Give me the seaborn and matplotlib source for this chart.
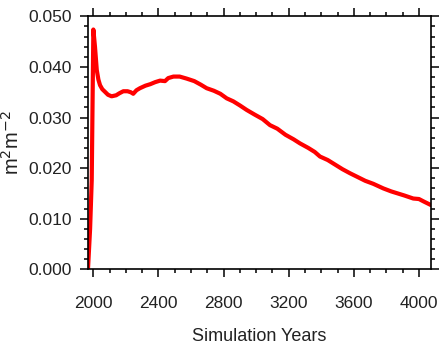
import matplotlib
matplotlib.use("Agg")
import matplotlib.pyplot as plt
from matplotlib.ticker import MultipleLocator, FormatStrFormatter
import seaborn as sns
import pandas as pd

# Simulated annual series (m2 m-2)
years = [1967, 1980, 1990, 2000, 2010, 2021, 2031, 2041, 2055, 2071, 2090, 2112,
         2140, 2160, 2184, 2210, 2230, 2245, 2265, 2286, 2320, 2350, 2380, 2410,
         2440, 2460, 2492, 2530, 2573, 2620, 2660, 2696, 2740, 2780, 2819, 2860,
         2900, 2942, 2990, 3040, 3085, 3130, 3180, 3230, 3269, 3320, 3360, 3392,
         3440, 3480, 3530, 3576, 3620, 3670, 3720, 3781, 3830, 3870, 3910, 3965,
         4000, 4030, 4074]
values = [0.0, 0.008, 0.0176, 0.0474, 0.0440, 0.0394, 0.0375, 0.0364, 0.0356,
          0.0351, 0.0345, 0.0342, 0.0344, 0.0348, 0.0352, 0.0352, 0.0350, 0.0347,
          0.0354, 0.0358, 0.0363, 0.0366, 0.0370, 0.0373, 0.0372, 0.0378, 0.0381,
          0.0381, 0.0377, 0.0372, 0.0365, 0.0358, 0.0353, 0.0347, 0.0338, 0.0332,
          0.0324, 0.0315, 0.0306, 0.0297, 0.0285, 0.0278, 0.0266, 0.0257, 0.0249,
          0.0240, 0.0232, 0.0223, 0.0216, 0.0208, 0.0198, 0.0190, 0.0183, 0.0175,
          0.0169, 0.0160, 0.0154, 0.0150, 0.0146, 0.0140, 0.0139, 0.0134, 0.0127]

df = pd.DataFrame({"year": years, "value": values})

sns.set_style("ticks")
plt.rcParams["font.family"] = ["Liberation Sans", "DejaVu Sans"]

fig = plt.figure(figsize=(4.41, 3.48), dpi=100)
ax = fig.add_axes([0.1995, 0.226, 0.7778, 0.727])

sns.lineplot(data=df, x="year", y="value", ax=ax, color="#ff0000",
             linewidth=3.0, solid_joinstyle="round", solid_capstyle="round")

ax.set_xlim(1967, 4074)
ax.set_ylim(0.0, 0.050)
ax.xaxis.set_major_locator(MultipleLocator(400))
ax.xaxis.set_minor_locator(MultipleLocator(100))
ax.yaxis.set_major_locator(MultipleLocator(0.01))
ax.yaxis.set_minor_locator(MultipleLocator(0.002))
ax.yaxis.set_major_formatter(FormatStrFormatter("%.3f"))

for s in ax.spines.values():
    s.set_visible(True)
    s.set_linewidth(1.2)
    s.set_color("black")

ax.tick_params(which="both", direction="out", top=True, right=True,
               color="black", width=1.1, labelsize=12.5, labelcolor="#222222")
ax.tick_params(which="major", length=5.5)
ax.tick_params(which="minor", length=3)
ax.tick_params(axis="y", which="major", pad=6)
ax.tick_params(axis="x", which="major", pad=14)

ax.set_xlabel("Simulation Years", fontsize=13, color="#222222", labelpad=12)
ax.set_ylabel("m$^2$m$^{-2}$", fontsize=14.5, color="#222222", labelpad=4)

fig.savefig("out.png", dpi=100)
